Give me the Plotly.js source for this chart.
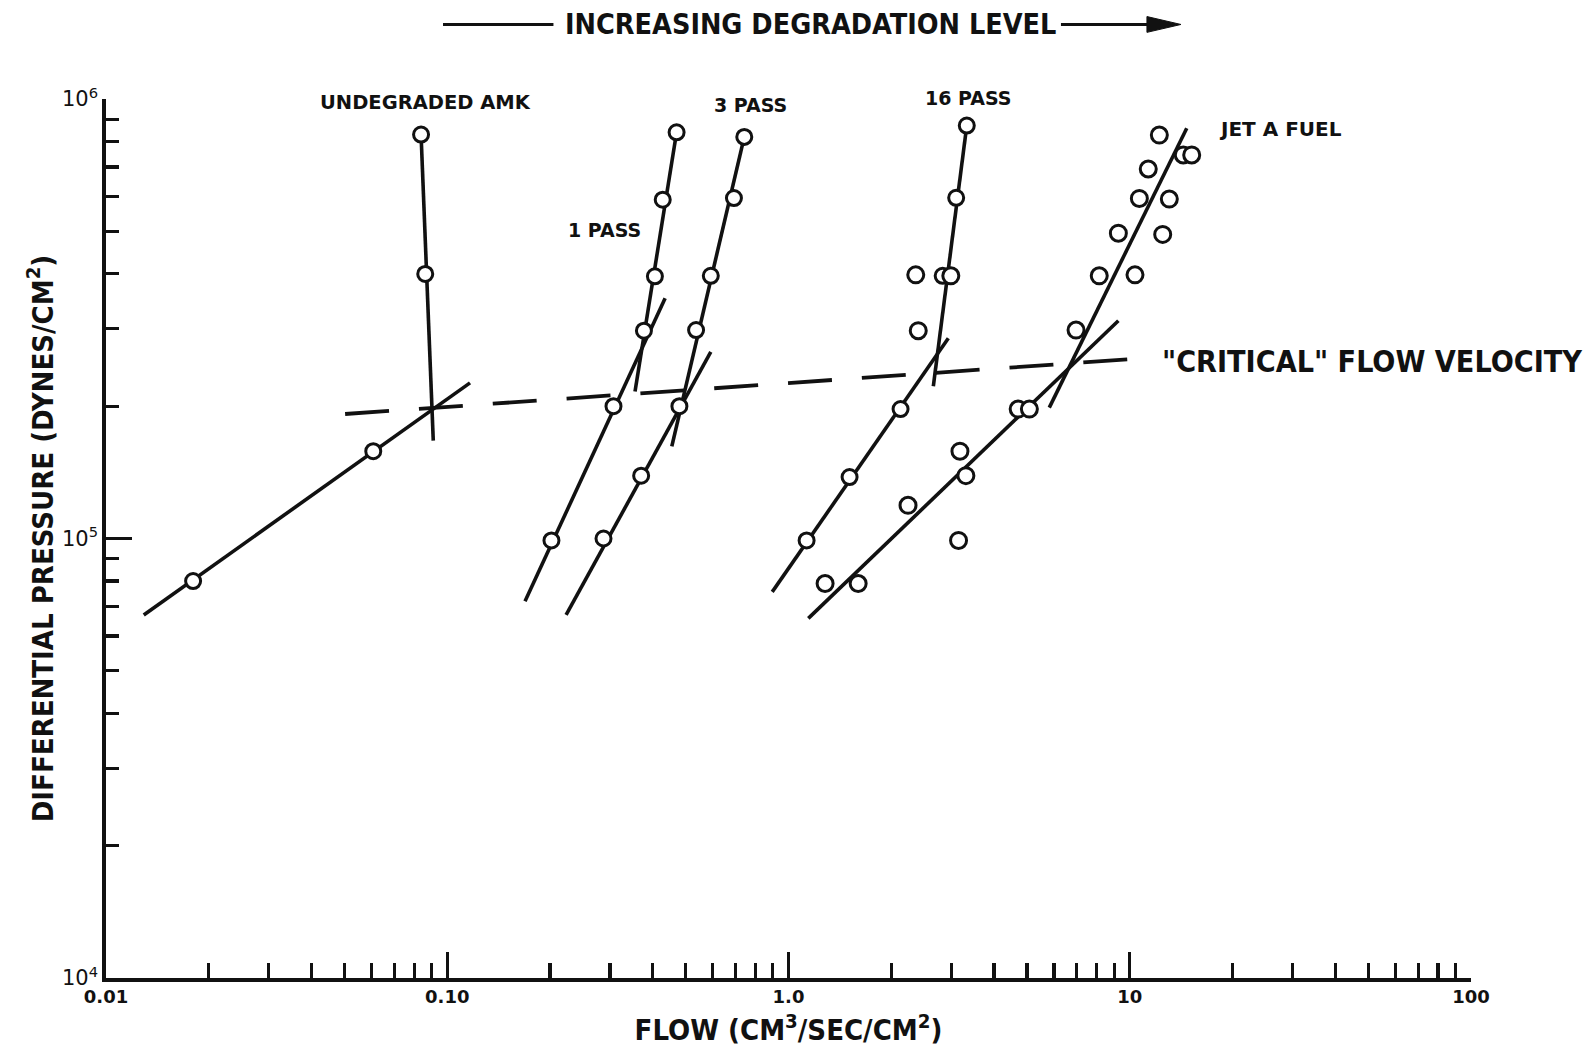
<!DOCTYPE html>
<html>
<head>
<meta charset="utf-8">
<script src="https://cdn.plot.ly/plotly-3.0.1.min.js"></script>
<style>
  html, body { margin: 0; padding: 0; background: #fff; }
  #chart { width: 1589px; height: 1062px; }
</style>
</head>
<body>
<div id="chart"></div>
<script>
// ---------------- DATA ----------------
// Flow in cm3/sec/cm2, differential pressure in dynes/cm2
const undegradedFlow = [0.0838, 0.0862, 0.0607, 0.0180];
const undegradedDP   = [8.3e5, 4.0e5, 1.58e5, 8.0e4];
const undegradedFitHighFlow = [0.0838, 0.0910];
const undegradedFitHighDP   = [8.3e5, 1.67e5];
const undegradedFitLowFlow  = [0.0129, 0.1166];
const undegradedFitLowDP    = [6.7e4, 2.26e5];

const pass1Flow = [0.470, 0.428, 0.406, 0.377, 0.307, 0.202];
const pass1DP   = [8.4e5, 5.9e5, 3.95e5, 2.97e5, 2.0e5, 9.9e4];
const pass1FitLowFlow  = [0.169, 0.435];
const pass1FitLowDP    = [7.2e4, 3.52e5];
const pass1FitHighFlow = [0.470, 0.355];
const pass1FitHighDP   = [8.4e5, 2.16e5];

const pass3Flow = [0.742, 0.692, 0.592, 0.536, 0.479, 0.370, 0.287];
const pass3DP   = [8.2e5, 5.95e5, 3.96e5, 2.98e5, 2.0e5, 1.39e5, 1.0e5];
const pass3FitLowFlow  = [0.223, 0.592];
const pass3FitLowDP    = [6.7e4, 2.66e5];
const pass3FitHighFlow = [0.742, 0.455];
const pass3FitHighDP   = [8.2e5, 1.62e5];

const pass16Flow = [3.33, 3.10, 2.83, 2.13, 1.51, 1.13];
const pass16DP   = [8.7e5, 5.96e5, 3.96e5, 1.97e5, 1.38e5, 9.9e4];
const pass16FitLowFlow  = [0.896, 2.94];
const pass16FitLowDP    = [7.56e4, 2.855e5];
const pass16FitHighFlow = [3.33, 2.657];
const pass16FitHighDP   = [8.7e5, 2.22e5];

const jetAFlow = [1.28, 1.60, 2.24, 3.15, 3.18, 3.31, 4.71, 5.08, 6.96, 8.14, 10.36, 9.26, 12.49,
                  10.67, 13.06, 11.33, 12.21, 14.35, 15.19, 2.36, 2.40, 2.99];
const jetADP   = [7.9e4, 7.9e4, 1.19e5, 9.9e4, 1.58e5, 1.39e5, 1.97e5, 1.97e5, 2.98e5, 3.96e5, 3.98e5, 4.95e5, 4.92e5,
                  5.94e5, 5.92e5, 6.93e5, 8.28e5, 7.46e5, 7.46e5, 3.98e5, 2.97e5, 3.96e5];
const jetAFitLowFlow  = [1.143, 9.26];
const jetAFitLowDP    = [6.58e4, 3.13e5];
const jetAFitHighFlow = [5.81, 14.69];
const jetAFitHighDP   = [1.985e5, 8.58e5];

const criticalFlow = [0.0502, 11.31];
const criticalDP   = [1.92e5, 2.575e5];

const xTickVals  = [0.01, 0.1, 1, 10, 100];
const xTickText  = ["0.01", "0.10", "1.0", "10", "100"];
const xMinorVals = [0.02,0.03,0.04,0.05,0.06,0.07,0.08,0.09,
                    0.2,0.3,0.4,0.5,0.6,0.7,0.8,0.9,
                    2,3,4,5,6,7,8,9,
                    20,30,40,50,60,70,80,90];
const yTickVals  = [1e4, 1e5, 1e6];
const yTickText  = ["10<sup>4</sup>", "10<sup>5</sup>", "10<sup>6</sup>"];
const yMinorVals = [2e4,3e4,4e4,5e4,6e4,7e4,8e4,9e4,
                    2e5,3e5,4e5,5e5,6e5,7e5,8e5,9e5];

// ---------------- STYLE ----------------
const INK = '#111';
const LW = 3.6;
const COND = '"DejaVu Sans Condensed", "DejaVu Sans", sans-serif';
const SANS = '"DejaVu Sans", sans-serif';

function fit(x, y) {
  return { x: x, y: y, mode: 'lines', type: 'scatter', hoverinfo: 'skip',
           line: { color: INK, width: LW }, showlegend: false };
}
function pts(x, y, size) {
  return { x: x, y: y, mode: 'markers', type: 'scatter', showlegend: false,
           marker: { symbol: 'circle', size: size, color: '#fff',
                     line: { color: INK, width: 3 } } };
}

const traces = [
  { x: criticalFlow, y: criticalDP, mode: 'lines', type: 'scatter', showlegend: false,
    line: { color: INK, width: 3.8, dash: '44px,30px' } },
  fit(undegradedFitHighFlow, undegradedFitHighDP),
  fit(undegradedFitLowFlow, undegradedFitLowDP),
  fit(pass1FitLowFlow, pass1FitLowDP),
  fit(pass1FitHighFlow, pass1FitHighDP),
  fit(pass3FitLowFlow, pass3FitLowDP),
  fit(pass3FitHighFlow, pass3FitHighDP),
  fit(pass16FitLowFlow, pass16FitLowDP),
  fit(pass16FitHighFlow, pass16FitHighDP),
  fit(jetAFitLowFlow, jetAFitLowDP),
  fit(jetAFitHighFlow, jetAFitHighDP),
  pts(undegradedFlow, undegradedDP, 15),
  pts(pass1Flow, pass1DP, 15),
  pts(pass3Flow, pass3DP, 15),
  pts(pass16Flow, pass16DP, 15),
  pts(jetAFlow, jetADP, 16)
];

function lbl(text, x, y, size, fam, anchor) {
  return { text: '<b>' + text + '</b>', xref: 'paper', yref: 'paper', x: x, y: y,
           xanchor: anchor || 'center', yanchor: 'middle', showarrow: false,
           font: { family: fam || SANS, size: size, color: INK } };
}

const layout = {
  width: 1589, height: 1062,
  margin: { l: 106, r: 118, t: 99, b: 84, pad: 0 },
  paper_bgcolor: '#fff', plot_bgcolor: '#fff',
  showlegend: false,
  xaxis: {
    type: 'log', range: [-2, 2], autorange: false,
    showgrid: false, zeroline: false,
    showline: true, linecolor: INK, linewidth: 3.8,
    tickmode: 'array', tickvals: xTickVals, ticktext: xTickText,
    ticks: 'inside', ticklen: 26, tickwidth: 3.2, tickcolor: INK,
    tickfont: { family: SANS, size: 18, color: INK, weight: 'bold' },
    minor: { tickmode: 'array', tickvals: xMinorVals, ticks: 'inside', ticklen: 15,
             tickwidth: 3.2, tickcolor: INK, showgrid: false },
    title: { text: '<b>FLOW (CM<sup>3</sup>/SEC/CM<sup>2</sup>)</b>', standoff: 14,
             font: { family: COND, size: 29, color: INK } },
    automargin: false
  },
  yaxis: {
    type: 'log', range: [4, 6], autorange: false,
    showgrid: false, zeroline: false,
    showline: true, linecolor: INK, linewidth: 3.8,
    tickmode: 'array', tickvals: yTickVals, ticktext: yTickText,
    ticks: 'inside', ticklen: 26, tickwidth: 3.2, tickcolor: INK,
    tickfont: { family: SANS, size: 21, color: INK },
    minor: { tickmode: 'array', tickvals: yMinorVals, ticks: 'inside', ticklen: 13,
             tickwidth: 3.2, tickcolor: INK, showgrid: false },
    title: { text: '<b>DIFFERENTIAL PRESSURE (DYNES/CM<sup>2</sup>)</b>', standoff: 1,
             font: { family: COND, size: 29, color: INK } },
    automargin: false
  },
  annotations: [
    lbl('INCREASING DEGRADATION LEVEL', 0.5158, 1.0848, 28.5, COND),
    lbl('UNDEGRADED AMK', 0.2342, 0.9961, 19.5),
    lbl('3 PASS', 0.4725, 0.9927, 19),
    lbl('1 PASS', 0.3652, 0.851, 19),
    lbl('16 PASS', 0.6315, 1.0008, 19),
    lbl('JET A FUEL', 0.8608, 0.9662, 20),
    lbl('"CRITICAL" FLOW VELOCITY', 0.7722, 0.701, 30.2, COND, 'left')
  ],
  shapes: [
    { type: 'line', xref: 'paper', yref: 'paper', x0: 0.2469, x1: 0.3278, y0: 1.0848, y1: 1.0848,
      line: { color: INK, width: 3 } },
    { type: 'line', xref: 'paper', yref: 'paper', x0: 0.6996, x1: 0.7700, y0: 1.0848, y1: 1.0848,
      line: { color: INK, width: 3 } },
    { type: 'path', xref: 'paper', yref: 'paper',
      path: 'M 0.7626 1.0938 L 0.7875 1.0848 L 0.7626 1.0758 Z',
      fillcolor: INK, line: { color: INK, width: 1 } }
  ]
};

Plotly.newPlot('chart', traces, layout, { staticPlot: true, displayModeBar: false });
</script>
</body>
</html>
